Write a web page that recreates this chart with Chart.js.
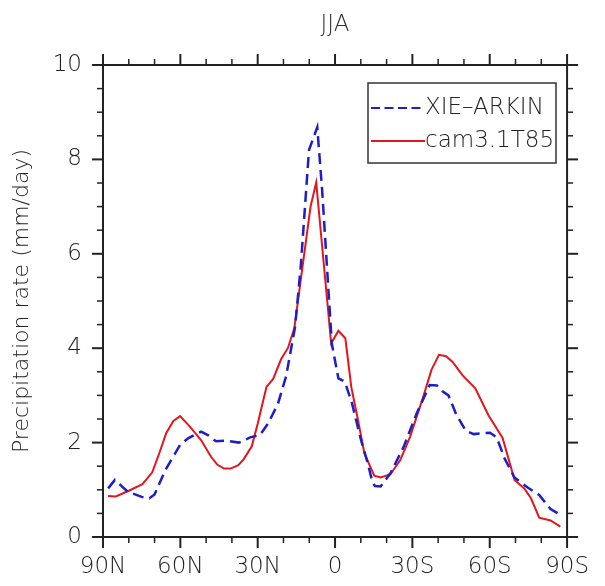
<!DOCTYPE html>
<html>
<head>
<meta charset="utf-8">
<script src="https://cdn.jsdelivr.net/npm/chart.js@4.4.1/dist/chart.umd.min.js"></script>
<style>
  html, body { margin: 0; padding: 0; background: #fff; }
</style>
</head>
<body>
<canvas id="jja" width="605" height="586"></canvas>
<script>
// zonal mean precipitation, JJA (lat > 0 is north)
const xieLat = [88, 85.4, 80.4, 75, 72, 70, 65.8, 60.1, 57, 54, 51.9, 49, 46.2, 41.8, 37.3, 32.9, 29.1, 25.9, 22.1, 19, 15.5, 13.3, 10.1, 6.9, 5, 1.25, -1.3, -3.8, -6.5, -10.1, -12.7, -14.6, -15.5, -17.7, -21.5, -26.6, -31.7, -36.7, -39.5, -41.8, -44, -47, -50.7, -53.8, -57, -60.1, -62.7, -65.8, -69.6, -74.7, -79.2, -83.6, -86.8, -88.5];
const xieRate = [1.03, 1.21, 0.96, 0.85, 0.82, 0.9, 1.42, 1.95, 2.09, 2.18, 2.23, 2.15, 2.03, 2.04, 2.0, 2.11, 2.16, 2.41, 2.83, 3.4, 4.45, 5.73, 8.2, 8.68, 7.35, 4.1, 3.36, 3.29, 2.85, 2.05, 1.56, 1.14, 1.08, 1.07, 1.35, 1.91, 2.62, 3.22, 3.21, 3.08, 3.0, 2.6, 2.25, 2.18, 2.2, 2.21, 2.11, 1.66, 1.26, 1.05, 0.89, 0.59, 0.49, 0.49];

const camLat = [88, 85, 80, 74.7, 70.9, 68, 65.5, 62.7, 60.1, 56.3, 51.9, 48.1, 45.6, 43, 40.5, 37.5, 35.4, 32.3, 30, 26.6, 24, 20.9, 18.3, 15.8, 9.5, 7.3, 1.5, -1.3, -4, -6.3, -8.9, -11.4, -15.2, -17.7, -21.5, -25.3, -29.1, -34.2, -37.4, -40.3, -43.1, -45.6, -49.4, -54.4, -59.5, -65, -69.6, -73.4, -76, -79.2, -83.6, -87.4];
const camRate = [0.87, 0.86, 0.98, 1.12, 1.37, 1.8, 2.2, 2.46, 2.56, 2.34, 2.05, 1.7, 1.53, 1.45, 1.45, 1.52, 1.65, 1.92, 2.4, 3.18, 3.35, 3.77, 4.0, 4.42, 7.0, 7.51, 4.1, 4.37, 4.21, 3.18, 2.48, 1.77, 1.3, 1.26, 1.33, 1.63, 2.12, 2.97, 3.54, 3.86, 3.83, 3.71, 3.43, 3.15, 2.58, 2.1, 1.21, 1.03, 0.82, 0.41, 0.35, 0.22];

const seriesNames = ['XIE\u2013ARKIN', 'cam3.1T85'];
const seriesColors = ['#1e1ec8', '#e3161d'];

const FONT = "'DejaVu Sans', sans-serif";
const INK = '#222';

function latLabel(v) {
  if (v === 0) return '0';
  return v > 0 ? v + 'N' : (-v) + 'S';
}

function line(ctx, x1, y1, x2, y2) {
  ctx.beginPath();
  ctx.moveTo(x1, y1);
  ctx.lineTo(x2, y2);
  ctx.stroke();
}

// box, major/minor ticks on all four sides, and the legend
const frameTicks = {
  id: 'frameTicks',
  afterDraw(chart) {
    const { ctx, chartArea: a } = chart;
    const xs = chart.scales.x;
    const ys = chart.scales.y;
    ctx.save();
    ctx.strokeStyle = INK;
    ctx.lineWidth = 2;
    ctx.strokeRect(a.left, a.top, a.right - a.left, a.bottom - a.top);

    for (let v = xs.min; v <= xs.max; v += 10) {
      const px = xs.getPixelForValue(v);
      const len = v % 30 === 0 ? 11 : 6;
      ctx.lineWidth = v % 30 === 0 ? 2 : 1.5;
      line(ctx, px, a.bottom, px, a.bottom + len);
      line(ctx, px, a.top, px, a.top - len);
    }
    for (let v = ys.min; v <= ys.max; v += 0.5) {
      const py = ys.getPixelForValue(v);
      const major = v % 2 === 0;
      const len = major ? 11 : 6;
      ctx.lineWidth = major ? 2 : 1.5;
      line(ctx, a.left, py, a.left - len, py);
      line(ctx, a.right, py, a.right + len, py);
    }

    // legend box
    const bx = a.left + 265;
    const by = a.top + 18;
    ctx.lineWidth = 1.5;
    ctx.strokeStyle = '#333';
    ctx.fillStyle = '#fff';
    ctx.fillRect(bx, by, 188, 80);
    ctx.strokeRect(bx, by, 188, 80);
    ctx.font = '200 23px ' + FONT;
    ctx.textBaseline = 'middle';
    ctx.textAlign = 'left';
    seriesNames.forEach((name, i) => {
      const ly = by + 25 + i * 33;
      ctx.strokeStyle = seriesColors[i];
      ctx.lineWidth = 2;
      ctx.setLineDash(i === 0 ? [9, 4.5] : []);
      line(ctx, bx + 3, ly, bx + 57, ly);
      ctx.setLineDash([]);
      ctx.fillStyle = '#222';
      ctx.fillText(name, bx + 57, ly);
    });
    ctx.restore();
  },
};

new Chart(document.getElementById('jja'), {
  type: 'line',
  data: {
    datasets: [
      {
        label: seriesNames[0],
        data: xieLat.map((lat, i) => ({ x: lat, y: xieRate[i] })),
        borderColor: seriesColors[0],
        borderWidth: 2.5,
        borderDash: [11, 6],
        pointRadius: 0,
        tension: 0,
      },
      {
        label: seriesNames[1],
        data: camLat.map((lat, i) => ({ x: lat, y: camRate[i] })),
        borderColor: seriesColors[1],
        borderWidth: 2,
        pointRadius: 0,
        tension: 0,
      },
    ],
  },
  options: {
    responsive: false,
    animation: false,
    devicePixelRatio: 1,
    layout: { padding: { top: 0, right: 28, bottom: 0, left: 0 } },
    plugins: {
      legend: { display: false },
      tooltip: { enabled: false },
      title: {
        display: true,
        text: 'JJA',
        fullSize: false,
        color: '#333',
        font: { family: FONT, size: 23, weight: '200' },
        padding: { top: 11, bottom: 26.4 },
      },
    },
    scales: {
      x: {
        type: 'linear',
        min: -90,
        max: 90,
        reverse: true,
        grid: { display: false, drawTicks: false },
        border: { display: false },
        ticks: {
          stepSize: 30,
          autoSkip: false,
          maxRotation: 0,
          padding: 16,
          color: INK,
          font: { family: FONT, size: 23, weight: '200' },
          callback: (v) => latLabel(v),
        },
        afterFit: (scale) => { scale.height = 49; },
      },
      y: {
        min: 0,
        max: 10,
        grid: { display: false, drawTicks: false },
        border: { display: false },
        ticks: {
          stepSize: 2,
          autoSkip: false,
          padding: 21,
          color: INK,
          font: { family: FONT, size: 23, weight: '200' },
        },
        title: {
          display: true,
          text: 'Precipitation rate (mm/day)',
          color: INK,
          font: { family: FONT, size: 22, weight: '200' },
          padding: { top: 9, bottom: 0 },
        },
        afterFit: (scale) => { scale.width = 103; },
      },
    },
  },
  plugins: [frameTicks],
});
</script>
</body>
</html>
